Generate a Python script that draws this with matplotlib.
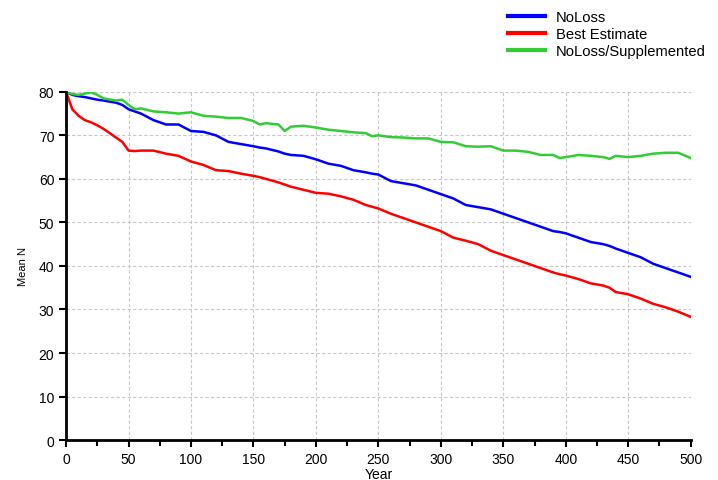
import matplotlib.pyplot as plt
from matplotlib.ticker import MultipleLocator

plt.rcParams['font.family'] = ['Liberation Sans', 'DejaVu Sans']

# Values
years = [0, 5, 10, 15, 20, 25, 30, 40, 45, 50, 55, 60, 70, 80, 90, 100, 110, 120, 130, 140,
         150, 155, 160, 170, 175, 180, 190, 200, 210, 220, 230, 240, 245, 250, 260, 270, 280,
         290, 300, 310, 320, 330, 340, 350, 360, 370, 380, 390, 395, 400, 410, 420, 430, 435,
         440, 450, 460, 470, 480, 490, 500]

noloss = [80, 79.3, 79, 78.8, 78.5, 78.2, 78, 77.5, 77, 76, 75.5, 75, 73.5, 72.5, 72.5, 71,
          70.8, 70, 68.5, 68, 67.5, 67.2, 67, 66.3, 65.8, 65.5, 65.3, 64.5, 63.5, 63, 62, 61.5,
          61.2, 61, 59.5, 59, 58.5, 57.5, 56.5, 55.5, 54, 53.5, 53, 52, 51, 50, 49, 48, 47.8,
          47.5, 46.5, 45.5, 45, 44.6, 44, 43, 42, 40.5, 39.5, 38.5, 37.5]

best_estimate = [80, 76, 74.5, 73.5, 73, 72.3, 71.5, 69.5, 68.5, 66.5, 66.4, 66.5, 66.5, 65.8,
                 65.3, 64, 63.2, 62, 61.8, 61.2, 60.7, 60.4, 60, 59.2, 58.7, 58.2, 57.5, 56.8,
                 56.6, 56, 55.2, 54, 53.6, 53.2, 52, 51, 50, 49, 48, 46.5, 45.8, 45, 43.5, 42.5,
                 41.5, 40.5, 39.5, 38.5, 38.1, 37.8, 37, 36, 35.5, 35, 34, 33.5, 32.5, 31.3, 30.5,
                 29.5, 28.3]

supplemented = [80, 79.5, 79.3, 79.6, 79.9, 79.3, 78.5, 78, 78.2, 77, 76, 76.2, 75.5, 75.3, 75,
                75.3, 74.5, 74.3, 74, 74, 73.3, 72.5, 72.8, 72.5, 71, 72, 72.2, 71.8, 71.3, 71,
                70.7, 70.5, 69.8, 70, 69.6, 69.5, 69.3, 69.3, 68.5, 68.4, 67.5, 67.4, 67.5, 66.5,
                66.5, 66.2, 65.5, 65.5, 64.8, 65, 65.5, 65.3, 65, 64.6, 65.3, 65, 65.3, 65.8, 66,
                66, 64.8]

fig = plt.figure(figsize=(7.18, 4.81), dpi=100)
ax = fig.add_axes([0.092, 0.083, 0.870, 0.724])

ax.plot(years, noloss, color='#0000ff', linewidth=1.8, label='NoLoss')
ax.plot(years, best_estimate, color='#ff0000', linewidth=1.8, label='Best Estimate')
ax.plot(years, supplemented, color='#32cd32', linewidth=1.8, label='NoLoss/Supplemented')

ax.set_xlim(0, 500)
ax.set_ylim(0, 80)
ax.xaxis.set_major_locator(MultipleLocator(50))
ax.xaxis.set_minor_locator(MultipleLocator(25))
ax.yaxis.set_major_locator(MultipleLocator(10))

ax.grid(True, which='major', linestyle=(0, (3, 2)), color='#c8c8c8', linewidth=0.8)
ax.spines['top'].set_visible(False)
ax.spines['right'].set_visible(False)
ax.spines['left'].set_linewidth(2)
ax.spines['bottom'].set_linewidth(2)
ax.tick_params(which='major', length=5, width=1.5, labelsize=10, direction='out')
ax.tick_params(which='minor', length=4, width=1.5, direction='out')

ax.set_xlabel('Year', fontsize=10, labelpad=1)
ax.set_ylabel('Mean N', fontsize=8, labelpad=8)

leg = fig.legend(loc='upper left', bbox_to_anchor=(0.689, 1.004), frameon=False,
                 fontsize=10.6, handlelength=2.5, labelspacing=0.2, handletextpad=0.75)
for line in leg.get_lines():
    line.set_linewidth(3)

plt.savefig('out.png', dpi=100)
